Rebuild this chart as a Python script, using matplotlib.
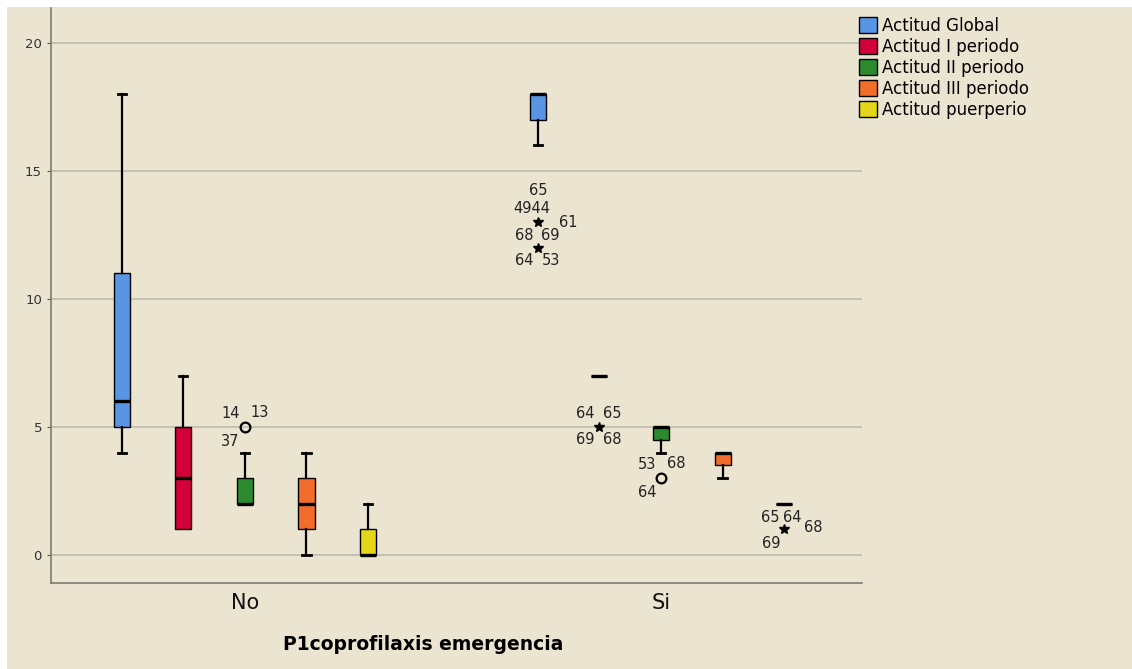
import matplotlib.pyplot as plt
from matplotlib.patches import Patch, Rectangle

# Datos
grupos = ['No', 'Si']
series = ['Actitud Global', 'Actitud I periodo', 'Actitud II periodo',
          'Actitud III periodo', 'Actitud puerperio']
colores = ['#5896E5', '#D4003A', '#2C8A2E', '#F26C2C', '#E6D61A']

# estadísticos por grupo: una lista por serie
no_whislo = [4, 1, 2, 0, 0]
no_q1 = [5, 1, 2, 1, 0]
no_med = [6, 3, 2, 2, 0]
no_q3 = [11, 5, 3, 3, 1]
no_whishi = [18, 7, 4, 4, 2]

si_whislo = [16, 7, 4, 3, 2]
si_q1 = [17, 7, 4.5, 3.5, 2]
si_med = [18, 7, 5, 4, 2]
si_q3 = [18, 7, 5, 4, 2]
si_whishi = [18, 7, 5, 4, 2]

# atípicos: grupo, serie, valor, marcador, etiquetas
atip_grupo = [0, 1, 1, 1, 1, 1]
atip_serie = [2, 0, 0, 1, 2, 4]
atip_valor = [5, 13, 12, 5, 3, 1]
atip_marca = ['o', '*', '*', '*', 'o', '*']
atip_etiquetas = [
    [('14', -14, 14), ('13', 15, 15), ('37', -15, -14)],
    [('65', 0, 32), ('4944', -6, 14), ('61', 30, 0)],
    [('68', -14, 12), ('69', 12, 12), ('64', -14, -13), ('53', 13, -13)],
    [('64', -14, 14), ('65', 13, 14), ('69', -14, -12), ('68', 13, -12)],
    [('53', -14, 14), ('68', 15, 15), ('64', -14, -14)],
    [('65', -14, 12), ('64', 8, 12), ('68', 29, 2), ('69', -13, -14)],
]

fondo = '#EBE4D1'
paso = 0.148
ancho = 0.0385

fig = plt.figure(figsize=(11.32, 6.69), dpi=100)
fig.patch.set_facecolor('white')
fig.patches.append(Rectangle((7 / 1132, 0), 1, 1 - 7 / 669, transform=fig.transFigure,
                             facecolor=fondo, edgecolor='none', zorder=-10))
ax = fig.add_axes([51 / 1132, 1 - 583 / 669, (862 - 51) / 1132, (583 - 8) / 669])
ax.set_facecolor(fondo)

stats_grupo = [(no_whislo, no_q1, no_med, no_q3, no_whishi),
               (si_whislo, si_q1, si_med, si_q3, si_whishi)]

for g, (wlo, q1, med, q3, whi) in enumerate(stats_grupo):
    for s in range(len(series)):
        pos = g + (s - 2) * paso
        st = [dict(whislo=wlo[s], q1=q1[s], med=med[s], q3=q3[s], whishi=whi[s], fliers=[])]
        art = ax.bxp(st, positions=[pos], widths=ancho, capwidths=0.02, patch_artist=True,
                     showfliers=False,
                     boxprops=dict(facecolor=colores[s], edgecolor='black', linewidth=1),
                     medianprops=dict(color='black', linewidth=2.4),
                     whiskerprops=dict(color='black', linewidth=1.6),
                     capprops=dict(color='black', linewidth=2), manage_ticks=False)
        # sin remate cuando el bigote coincide con la caja
        if wlo[s] == q1[s]:
            art['caps'][0].set_visible(False)
        if whi[s] == q3[s]:
            art['caps'][1].set_visible(False)

for g, s, v, m, etiq in zip(atip_grupo, atip_serie, atip_valor, atip_marca, atip_etiquetas):
    x = g + (s - 2) * paso
    if m == 'o':
        ax.plot(x, v, 'o', markerfacecolor='none', markeredgecolor='black',
                markersize=7, markeredgewidth=1.6, zorder=5)
    else:
        ax.plot(x, v, '*', color='black', markersize=7, zorder=5)
    for txt, dx, dy in etiq:
        ax.annotate(txt, (x, v), xytext=(dx, dy), textcoords='offset pixels',
                    ha='center', va='center', fontsize=10.5, color='#222222')

ax.set_xlim(-0.466, 1.483)
ax.set_ylim(-1.09, 21.37)
ax.set_yticks([0, 5, 10, 15, 20])
ax.set_xticks([0, 1])
ax.set_xticklabels(grupos, fontsize=15)
ax.tick_params(axis='y', labelsize=9.5, length=3, colors='#555555', labelcolor='#333333')
ax.tick_params(axis='x', length=0, pad=7, labelcolor='#111111')
ax.yaxis.grid(True, color='#BDBAB2', linewidth=1.2)
ax.set_axisbelow(True)
for lado in ['top', 'right']:
    ax.spines[lado].set_visible(False)
for lado in ['left', 'bottom']:
    ax.spines[lado].set_color('#7F7A70')
    ax.spines[lado].set_linewidth(1.2)

ax.set_xlabel('P1coprofilaxis emergencia', fontsize=13.5, fontweight='bold')
ax.xaxis.set_label_coords((423 - 51) / 811, -(645 - 583) / 575)
ax.xaxis.label.set_va('center')

handles = [Patch(facecolor=c, edgecolor='black', label=l) for c, l in zip(colores, series)]
fig.legend(handles=handles, loc='upper left', bbox_to_anchor=(852 / 1132, 1 - 10 / 669),
           frameon=False, fontsize=12, handlelength=1.1, handleheight=1.1,
           handletextpad=0.3, labelspacing=0.18, borderaxespad=0)

fig.savefig('out.png', dpi=100, facecolor=fig.get_facecolor())
